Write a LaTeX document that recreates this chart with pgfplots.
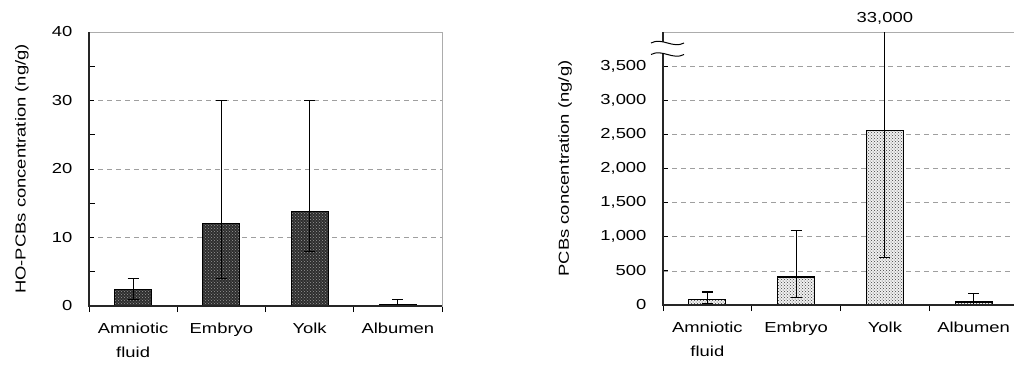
\documentclass[border=0pt]{standalone}
\usepackage{fontspec}
\setmainfont{Liberation Sans}[FakeStretch=1.27]
\usepackage{pgfplots}
\usepackage{pgfplotstable}
\pgfplotsset{compat=1.18}
\usetikzlibrary{patterns,calc}

\pgfplotstableread{
x y ep em
0 2.4 1.6 1.4
1 12.0 18.0 8.0
2 13.8 16.2 5.8
3 0.2 0.7 0.2
}\hodata

\pgfplotstableread{
x y ep em
0 85 105 65
1 410 680 300
2 2560 30440 1860
3 45 125 35
}\pcbdata

\pgfplotsset{
 common/.style={
  scale only axis,
  enlargelimits=false,
  xmin=-0.5, xmax=3.5,
  ymin=0,
  xtick={0,1,2,3},
  xticklabels={{Amniotic\\fluid},Embryo,Yolk,Albumen},
  major x tick style={draw=none},
  minor xtick={-0.5,0.5,1.5,2.5,3.5},
  minor x tick style={yshift=-6pt},
  xtick pos=bottom, ytick pos=left,
  tick align=inside,
  minor tick length=6pt,
  major tick length=5pt,
  ymajorgrids,
  grid style={dash pattern=on 5pt off 4pt, gray!75, line width=0.7pt},
  axis line style={gray!65, line width=1pt},
  tick style={black, line width=0.9pt},
  xticklabel style={align=center, font=\fontsize{14.5pt}{24pt}\selectfont, yshift=-13pt},
  yticklabel style={font=\fontsize{14.5pt}{18pt}\selectfont, xshift=-13pt},
  ylabel style={font=\fontsize{14.5pt}{18pt}\selectfont, anchor=center},
  /pgf/number format/assume math mode=true,
  /pgf/number format/1000 sep={,},
  clip mode=individual,
 },
 errs/.style={draw=none, mark=none,
  error bars/.cd, y dir=both, y explicit,
  error bar style={draw=black, line width=1.1pt},
  error mark options={draw=black, rotate=90, mark size=5.5pt, line width=1.1pt}},
}

\begin{document}
\begin{tikzpicture}
\path[use as bounding box] (0,0) rectangle (1014pt,365pt);

\begin{axis}[common,
  at={(89pt,59pt)}, width=353pt, height=274pt,
  ymax=40, ytick={0,10,20,30,40}, minor y tick num=1,
  ylabel={HO-PCBs concentration (ng/g)},
  ylabel style={at={($(rel axis cs:0,0.5)+(-67pt,0)$)}},
]
\addplot[ybar, bar width=37pt, draw=black, line width=1.2pt, fill=black!82,
  postaction={pattern=crosshatch dots, pattern color=black!40}]
  table[x=x,y=y]{\hodata};
\addplot[errs] table[x=x,y=y,y error plus=ep,y error minus=em]{\hodata};
\draw[black!85, line width=1.4pt] (rel axis cs:0,1) -- (rel axis cs:0,0) -- (rel axis cs:1,0);
\end{axis}

\begin{axis}[common,
  at={(663pt,60pt)}, width=355pt, height=273pt,
  ymax=4000, ytick={0,500,...,3500},
  ylabel={PCBs concentration (ng/g)},
  ylabel style={at={($(rel axis cs:0,0.5)+(-98pt,0)$)}},
]
\addplot[ybar, bar width=37pt, draw=black, line width=1.2pt, fill=black!6,
  postaction={pattern=crosshatch dots, pattern color=black!75}]
  table[x=x,y=y]{\pcbdata};
\addplot[errs] table[x=x,y=y,y error plus=ep,y error minus=em]{\pcbdata};
\draw[black!85, line width=1.4pt] (rel axis cs:0,1) -- (rel axis cs:0,0) -- (rel axis cs:1,0);
\node[anchor=south, font=\fontsize{14.5pt}{18pt}\selectfont, yshift=4pt] at (axis cs:2,4000) {33,000};
\end{axis}

% axis break marks
\fill[white] (651pt,322pt) .. controls (662pt,328pt) and (673pt,316pt) .. (684pt,322pt)
  -- (684pt,310.5pt) .. controls (673pt,304.5pt) and (662pt,316.5pt) .. (651pt,310.5pt) -- cycle;
\draw[black, line width=1pt] (651pt,322pt) .. controls (662pt,328pt) and (673pt,316pt) .. (684pt,322pt);
\draw[black, line width=1pt] (651pt,310.5pt) .. controls (662pt,316.5pt) and (673pt,304.5pt) .. (684pt,310.5pt);
\end{tikzpicture}
\end{document}
